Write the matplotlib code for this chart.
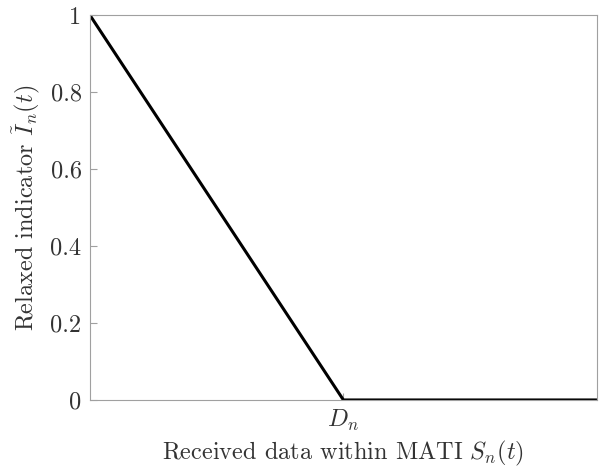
import numpy as np
import matplotlib
matplotlib.use('Agg')
import matplotlib.pyplot as plt

plt.rcParams['font.family'] = 'serif'
plt.rcParams['font.serif'] = ['cmr10', 'DejaVu Serif']
plt.rcParams['mathtext.fontset'] = 'cm'
plt.rcParams['axes.formatter.use_mathtext'] = True

# received data (in units of D_n) and relaxed indicator
data_received = [0, 1, 2]
indicator = [1, 0, 0]
x_ticks = [1]
x_tick_labels = [r'$D_n$']
y_ticks = [0, 0.2, 0.4, 0.6, 0.8, 1]
y_tick_labels = ['0', '0.2', '0.4', '0.6', '0.8', '1']

fig = plt.figure(figsize=(6.03, 4.70), dpi=100)
ax = fig.add_axes([0.149, 0.149, 0.841, 0.819])
ax.plot(data_received, indicator, color='black', linewidth=2.2, solid_capstyle='butt')

ax.set_xlim(0, 2)
ax.set_ylim(0, 1)
ax.set_xticks(x_ticks)
ax.set_xticklabels(x_tick_labels)
ax.set_yticks(y_ticks)
ax.set_yticklabels(y_tick_labels)

for s in ax.spines.values():
    s.set_color('#a0a0a0')
    s.set_linewidth(0.8)
ax.tick_params(direction='in', color='#a0a0a0', labelcolor='#333333', labelsize=17.5, length=5, pad=6)

ax.set_xlabel(r'Received data within MATI $S_n(t)$', fontsize=17.5, color='#333333', labelpad=4)
ax.set_ylabel(r'Relaxed indicator $\tilde{I}_n(t)$', fontsize=17.5, color='#333333', labelpad=6)

plt.savefig('out.png', dpi=100)
